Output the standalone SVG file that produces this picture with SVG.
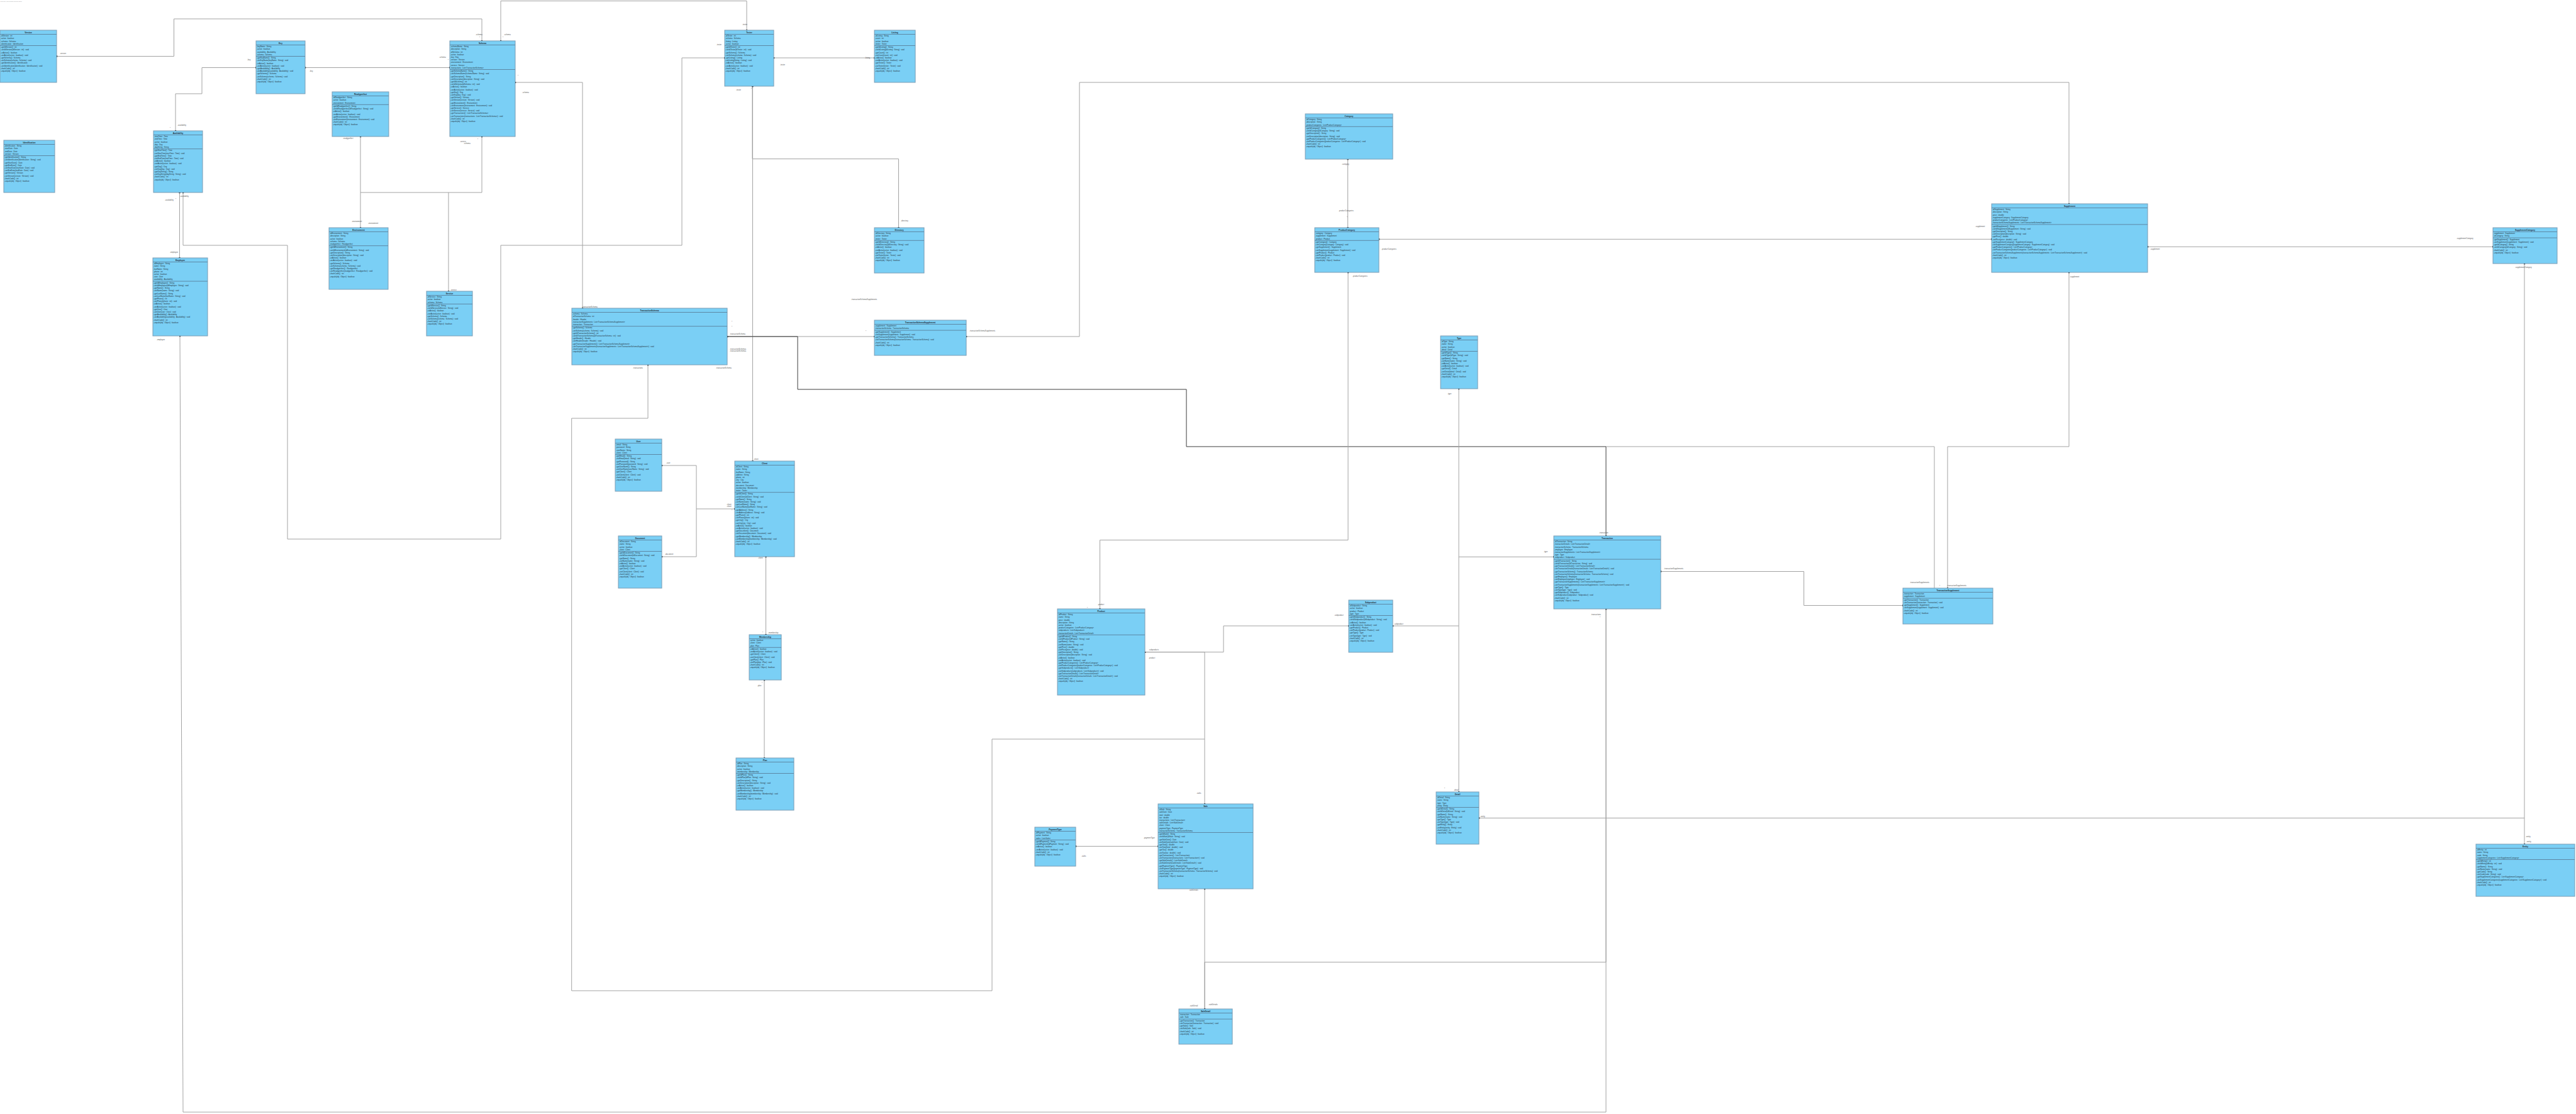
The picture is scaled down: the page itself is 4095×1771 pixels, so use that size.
<svg xmlns="http://www.w3.org/2000/svg" width="4095" height="1771" viewBox="0 0 4095 1771">
<defs>
<style>
.box{fill:#7acff5;stroke:#7a9cb4;stroke-width:1}
.sep{stroke:#5d88a5;stroke-width:1;fill:none}
.tt{font-family:"Liberation Sans",Arial,sans-serif;font-weight:bold;font-size:3.2px;fill:#1d2630;text-anchor:middle}
.m{font-family:"Liberation Sans",Arial,sans-serif;font-size:2.9px;fill:#27323c}
.cn path{fill:none;stroke:#a3a3a3;stroke-width:1;marker-start:url(#e);marker-end:url(#e)}
.cn path.dk{stroke:#3c3c3c}
.cn path.nm{marker-start:none;marker-end:none}
.cn path.ns{marker-start:none}
.cn path.ne{marker-end:none}
.lb{font-family:"Liberation Sans",Arial,sans-serif;font-size:2.8px;fill:#555}
</style>
<marker id="e" markerUnits="userSpaceOnUse" markerWidth="3" markerHeight="3" refX="1.2" refY="1.2"><rect width="2.4" height="2.4" fill="#111"/></marker>
</defs>
<rect width="4095" height="1771" fill="#fff"/>
<text x="0.5" y="3" style="font-family:'Liberation Sans',sans-serif;font-size:1.6px;fill:#9a9a9a">Powered By Visual Paradigm Community Edition</text>

<g class="cn" id="connectors">
<path d="M90 89.5H276.5V30H766V65"/>
<path d="M796 65V1.5H1187V48"/>
<path d="M485 107.5H715"/>
<path d="M407 107.5H321V149H279V208"/>
<path d="M573 217V362"/>
<path class="ne" d="M766 217V306H573"/>
<path class="ns" d="M713 306V463"/>
<path d="M819 131H926V490"/>
<path d="M285.5 306V410"/>
<path d="M291 306V390H457V857H796V390H1084V92H1152"/>
<path d="M286 534L291 1768H2553V968"/>
<path d="M1230 92H1390"/>
<path d="M1196 137V252.6H1428.5V362"/>
<path d="M1196.5 137V733"/>
<path d="M1156 535H1390"/>
<path class="dk" d="M1156 535H1268V619H1886V710H2553V852"/>
<path class="nm" d="M2553 710H3075V935"/>
<path d="M1536 535H1716V131H3289V324"/>
<path class="ne" d="M1030 580V665H908.7V1575H1577V1175H1915"/>
<path d="M1052 740H1107V809H1168"/>
<path class="ne" d="M1052 885H1107V809"/>
<path d="M1217.5 885V1009"/>
<path d="M1215 1081V1205"/>
<path d="M2142.6 253V362"/>
<path d="M2192 380.3H3166"/>
<path d="M3414 392.3H3963"/>
<path d="M2143 433V858.6H1748.5V968"/>
<path d="M3289 433V710H3096V935"/>
<path d="M4013 419V1342"/>
<path class="ne" d="M2351 1300.5H4013"/>
<path d="M2319 618V1259"/>
<path class="ns" d="M2319 995H2214"/>
<path class="ns" d="M2319 885.3H2470"/>
<path d="M2144 995H1945V1036.7H1820"/>
<path d="M1820 1036.7H1915V1278"/>
<path d="M2640 908.5H2867.6V962.5H3025"/>
<path d="M1710 1345.4H1841"/>
<path d="M1915 1413V1604"/>
<path d="M2553 968V1529.6H1915V1604"/>
</g>

<g id="labels">
<text class="lb" x="95" y="86">-version</text>
<text class="lb" x="756" y="56">-schema</text><text class="lb" x="762" y="61">*</text>
<text class="lb" x="801" y="56">-schema</text><text class="lb" x="799" y="61">*</text>
<text class="lb" x="1180" y="40">-tester</text>
<text class="lb" x="492" y="114">-key</text>
<text class="lb" x="698" y="92">-schema</text><text class="lb" x="712" y="97">*</text>
<text class="lb" x="393" y="96">-key</text>
<text class="lb" x="282" y="200">-availability</text><text class="lb" x="270" y="205">*</text>
<text class="lb" x="545" y="221">-readyperfect</text>
<text class="lb" x="559" y="353">-environment</text><text class="lb" x="585" y="356">-environment</text>
<text class="lb" x="731" y="226">-service</text><text class="lb" x="737" y="229">-schema</text><text class="lb" x="759" y="223">*</text>
<text class="lb" x="716" y="462">-service</text>
<text class="lb" x="823" y="122">*</text><text class="lb" x="830" y="148">-schema</text>
<text class="lb" x="925" y="489">-transactionSchema</text>
<text class="lb" x="262" y="319">-availability</text><text class="lb" x="286" y="313">-availability</text><text class="lb" x="279" y="318">*</text>
<text class="lb" x="270" y="402">-employee</text>
<text class="lb" x="1139" y="72">-tester</text>
<text class="lb" x="249" y="541">-employee</text>
<text class="lb" x="1240" y="104">-tester</text><text class="lb" x="1375" y="93">-listing</text>
<text class="lb" x="1170" y="144">-tester</text><text class="lb" x="1194" y="143">*</text>
<text class="lb" x="1432" y="352">-directory</text>
<text class="lb" x="1198" y="731">-client</text>
<text class="lb" x="1160" y="532">-transactionSchema</text><text class="lb" x="1163" y="513">*</text><text class="lb" x="1163" y="521">*</text>
<text class="lb" x="1160" y="556">-transactionSchemas</text><text class="lb" x="1160" y="559">-transactionSchemas</text>
<text class="lb" x="1353" y="477">-transactionSchemaSupplements</text>
<text class="lb" x="1541" y="527">-transactionSchemaSupplements</text><text class="lb" x="1376" y="528">*</text>
<text class="lb" x="1006" y="586">-transactions</text><text class="lb" x="1138" y="586">-transactionSchema</text>
<text class="lb" x="1059" y="737">-user</text><text class="lb" x="1057" y="882">-document</text>
<text class="lb" x="1155" y="803">-client</text><text class="lb" x="1155" y="806">-client</text><text class="lb" x="1163" y="813">*</text>
<text class="lb" x="1205" y="888">-client</text>
<text class="lb" x="1221" y="1007">-membership</text><text class="lb" x="1212" y="1007">*</text>
<text class="lb" x="1211" y="1087">*</text><text class="lb" x="1204" y="1091">-plan</text>
<text class="lb" x="2133" y="262">-category</text>
<text class="lb" x="2128" y="336">-productCategories</text><text class="lb" x="2141" y="347">*</text>
<text class="lb" x="2196" y="397">-productCategories</text>
<text class="lb" x="3140" y="361">-supplement</text>
<text class="lb" x="3418" y="397">-supplement</text><text class="lb" x="3905" y="380">-supplementCategory</text>
<text class="lb" x="1745" y="962">-product</text><text class="lb" x="1728" y="968">*</text>
<text class="lb" x="2150" y="440">-productCategories</text>
<text class="lb" x="3290" y="441">-supplement</text>
<text class="lb" x="3036" y="927">-transactionSupplements</text><text class="lb" x="3095" y="932">-transactionSupplements</text><text class="lb" x="3083" y="933">*</text>
<text class="lb" x="3998" y="426">-supplementCategory</text>
<text class="lb" x="4015" y="1331">-entity</text><text class="lb" x="4016" y="1339">-entity</text>
<text class="lb" x="2353" y="1299">-entity</text>
<text class="lb" x="2311" y="1257">-detail</text><text class="lb" x="2296" y="1255">*</text>
<text class="lb" x="2301" y="627">-type</text>
<text class="lb" x="2216" y="993">-subproduct</text>
<text class="lb" x="2454" y="878">-type</text>
<text class="lb" x="2529" y="978">-transactions</text><text class="lb" x="2543" y="983">*</text>
<text class="lb" x="2542" y="848">-transaction</text>
<text class="lb" x="1826" y="1034">-subproducts</text><text class="lb" x="1826" y="1047">-product</text>
<text class="lb" x="2121" y="979">-subproduct</text>
<text class="lb" x="1902" y="1262">-sales</text><text class="lb" x="1818" y="1333">-paymentType</text>
<text class="lb" x="1719" y="1362">-sales</text>
<text class="lb" x="1890" y="1416">-saleDetails</text><text class="lb" x="1891" y="1600">-saleDetail</text><text class="lb" x="1921" y="1598">-saleDetails</text>
<text class="lb" x="2645" y="905">-transactionSupplements</text>
</g>

<g id="n1"><rect class="box" x="0" y="48" width="90" height="83"/><path class="sep" d="M0 54.5h90M0 72.5h90"/><text class="tt" x="45" y="52.7">Version</text>
<text class="m" x="1.2" y="58.1"><tspan x="1.2" dy="0">-idVersion : int</tspan><tspan x="1.2" dy="4.2">-active : boolean</tspan><tspan x="1.2" dy="4.2">-schema : Schema</tspan><tspan x="1.2" dy="4.2">-identification : Identification</tspan></text>
<text class="m" x="1.2" y="76.1"><tspan x="1.2" dy="0">+getIdVersion() : int</tspan><tspan x="1.2" dy="4.2">+setIdVersion(idVersion : int) : void</tspan><tspan x="1.2" dy="4.2">+isActive() : boolean</tspan><tspan x="1.2" dy="4.2">+setActive(active : boolean) : void</tspan><tspan x="1.2" dy="4.2">+getSchema() : Schema</tspan><tspan x="1.2" dy="4.2">+setSchema(schema : Schema) : void</tspan><tspan x="1.2" dy="4.2">+getIdentification() : Identification</tspan><tspan x="1.2" dy="4.2">+setIdentification(identification : Identification) : void</tspan><tspan x="1.2" dy="4.2">+hashCode() : int</tspan><tspan x="1.2" dy="4.2">+equals(obj : Object) : boolean</tspan></text></g>

<g id="n2"><rect class="box" x="6" y="223" width="81" height="83"/><path class="sep" d="M6 229.5h81M6 247.5h81"/><text class="tt" x="46.5" y="227.7">Identification</text>
<text class="m" x="7.2" y="233.1"><tspan x="7.2" dy="0">-identification : String</tspan><tspan x="7.2" dy="4.2">-startDate : Date</tspan><tspan x="7.2" dy="4.2">-endDate : Date</tspan><tspan x="7.2" dy="4.2">-version : Version</tspan></text>
<text class="m" x="7.2" y="251.1"><tspan x="7.2" dy="0">+getIdentification() : String</tspan><tspan x="7.2" dy="4.2">+setIdentification(identification : String) : void</tspan><tspan x="7.2" dy="4.2">+getStartDate() : Date</tspan><tspan x="7.2" dy="4.2">+getEndDate() : Date</tspan><tspan x="7.2" dy="4.2">+setStartDate(startDate : Date) : void</tspan><tspan x="7.2" dy="4.2">+setEndDate(endDate : Date) : void</tspan><tspan x="7.2" dy="4.2">+getVersion() : Version</tspan><tspan x="7.2" dy="4.2">+setVersion(version : Version) : void</tspan><tspan x="7.2" dy="4.2">+hashCode() : int</tspan><tspan x="7.2" dy="4.2">+equals(obj : Object) : boolean</tspan></text></g>

<g id="n3"><rect class="box" x="244" y="208" width="78" height="98"/><path class="sep" d="M244 214.5h78M244 236.7h78"/><text class="tt" x="283" y="212.7">Availability</text>
<text class="m" x="245.2" y="218.1"><tspan x="245.2" dy="0">-startTime : Time</tspan><tspan x="245.2" dy="4.2">-endTime : Time</tspan><tspan x="245.2" dy="4.2">-active : boolean</tspan><tspan x="245.2" dy="4.2">-day : Day</tspan><tspan x="245.2" dy="4.2">-dayString : String</tspan></text>
<text class="m" x="245.2" y="240.3"><tspan x="245.2" dy="0">+getStartTime() : Time</tspan><tspan x="245.2" dy="4.2">+setStartTime(startTime : Time) : void</tspan><tspan x="245.2" dy="4.2">+getEndTime() : Time</tspan><tspan x="245.2" dy="4.2">+setEndTime(endTime : Time) : void</tspan><tspan x="245.2" dy="4.2">+isActive() : boolean</tspan><tspan x="245.2" dy="4.2">+setActive(active : boolean) : void</tspan><tspan x="245.2" dy="4.2">+getDay() : Day</tspan><tspan x="245.2" dy="4.2">+setDay(day : Day) : void</tspan><tspan x="245.2" dy="4.2">+getDayString() : String</tspan><tspan x="245.2" dy="4.2">+setDayString(dayString : String) : void</tspan><tspan x="245.2" dy="4.2">+hashCode() : int</tspan><tspan x="245.2" dy="4.2">+equals(obj : Object) : boolean</tspan></text></g>

<g id="n4"><rect class="box" x="243" y="410" width="87" height="124"/><path class="sep" d="M243 416.5h87M243 447.1h87"/><text class="tt" x="286.5" y="414.7">Employee</text>
<text class="m" x="244.2" y="420.1"><tspan x="244.2" dy="0">-idEmployee : String</tspan><tspan x="244.2" dy="4.2">-name : String</tspan><tspan x="244.2" dy="4.2">-lastName : String</tspan><tspan x="244.2" dy="4.2">-phone : int</tspan><tspan x="244.2" dy="4.2">-active : boolean</tspan><tspan x="244.2" dy="4.2">-user : User</tspan><tspan x="244.2" dy="4.2">-availability : Availability</tspan></text>
<text class="m" x="244.2" y="450.7"><tspan x="244.2" dy="0">+getIdEmployee() : String</tspan><tspan x="244.2" dy="4.2">+setIdEmployee(idEmployee : String) : void</tspan><tspan x="244.2" dy="4.2">+getName() : String</tspan><tspan x="244.2" dy="4.2">+setName(name : String) : void</tspan><tspan x="244.2" dy="4.2">+getLastName() : String</tspan><tspan x="244.2" dy="4.2">+setLastName(lastName : String) : void</tspan><tspan x="244.2" dy="4.2">+getPhone() : int</tspan><tspan x="244.2" dy="4.2">+setPhone(phone : int) : void</tspan><tspan x="244.2" dy="4.2">+isActive() : boolean</tspan><tspan x="244.2" dy="4.2">+setActive(active : boolean) : void</tspan><tspan x="244.2" dy="4.2">+getUser() : User</tspan><tspan x="244.2" dy="4.2">+setUser(user : User) : void</tspan><tspan x="244.2" dy="4.2">+getAvailability() : Availability</tspan><tspan x="244.2" dy="4.2">+setAvailability(availability : Availability) : void</tspan><tspan x="244.2" dy="4.2">+hashCode() : int</tspan><tspan x="244.2" dy="4.2">+equals(obj : Object) : boolean</tspan></text></g>

<g id="n5"><rect class="box" x="407" y="65" width="78" height="84"/><path class="sep" d="M407 71.5h78M407 89.5h78"/><text class="tt" x="446" y="69.7">Key</text>
<text class="m" x="408.2" y="75.1"><tspan x="408.2" dy="0">-keyName : String</tspan><tspan x="408.2" dy="4.2">-active : boolean</tspan><tspan x="408.2" dy="4.2">-availability : Availability</tspan><tspan x="408.2" dy="4.2">-schema : Schema</tspan></text>
<text class="m" x="408.2" y="93.1"><tspan x="408.2" dy="0">+getKeyName() : String</tspan><tspan x="408.2" dy="4.2">+setKeyName(keyName : String) : void</tspan><tspan x="408.2" dy="4.2">+isActive() : boolean</tspan><tspan x="408.2" dy="4.2">+setActive(active : boolean) : void</tspan><tspan x="408.2" dy="4.2">+getAvailability() : Availability</tspan><tspan x="408.2" dy="4.2">+setAvailability(availability : Availability) : void</tspan><tspan x="408.2" dy="4.2">+getSchema() : Schema</tspan><tspan x="408.2" dy="4.2">+setSchema(schema : Schema) : void</tspan><tspan x="408.2" dy="4.2">+hashCode() : int</tspan><tspan x="408.2" dy="4.2">+equals(obj : Object) : boolean</tspan></text></g>

<g id="n6"><rect class="box" x="528" y="146" width="90" height="71"/><path class="sep" d="M528 152.5h90M528 166.3h90"/><text class="tt" x="573" y="150.7">Readyperfect</text>
<text class="m" x="529.2" y="156.1"><tspan x="529.2" dy="0">-idReadyperfect : String</tspan><tspan x="529.2" dy="4.2">-active : boolean</tspan><tspan x="529.2" dy="4.2">-environment : Environment</tspan></text>
<text class="m" x="529.2" y="169.9"><tspan x="529.2" dy="0">+getIdReadyperfect() : String</tspan><tspan x="529.2" dy="4.2">+setIdReadyperfect(idReadyperfect : String) : void</tspan><tspan x="529.2" dy="4.2">+isActive() : boolean</tspan><tspan x="529.2" dy="4.2">+setActive(active : boolean) : void</tspan><tspan x="529.2" dy="4.2">+getEnvironment() : Environment</tspan><tspan x="529.2" dy="4.2">+setEnvironment(environment : Environment) : void</tspan><tspan x="529.2" dy="4.2">+hashCode() : int</tspan><tspan x="529.2" dy="4.2">+equals(obj : Object) : boolean</tspan></text></g>

<g id="n7"><rect class="box" x="523" y="362" width="94" height="98"/><path class="sep" d="M523 368.5h94M523 390.7h94"/><text class="tt" x="570" y="366.7">Environment</text>
<text class="m" x="524.2" y="372.1"><tspan x="524.2" dy="0">-idEnvironment : String</tspan><tspan x="524.2" dy="4.2">-description : String</tspan><tspan x="524.2" dy="4.2">-active : boolean</tspan><tspan x="524.2" dy="4.2">-schema : Schema</tspan><tspan x="524.2" dy="4.2">-readyperfect : Readyperfect</tspan></text>
<text class="m" x="524.2" y="394.3"><tspan x="524.2" dy="0">+getIdEnvironment() : String</tspan><tspan x="524.2" dy="4.2">+setIdEnvironment(idEnvironment : String) : void</tspan><tspan x="524.2" dy="4.2">+getDescription() : String</tspan><tspan x="524.2" dy="4.2">+setDescription(description : String) : void</tspan><tspan x="524.2" dy="4.2">+isActive() : boolean</tspan><tspan x="524.2" dy="4.2">+setActive(active : boolean) : void</tspan><tspan x="524.2" dy="4.2">+getSchema() : Schema</tspan><tspan x="524.2" dy="4.2">+setSchema(schema : Schema) : void</tspan><tspan x="524.2" dy="4.2">+getReadyperfect() : Readyperfect</tspan><tspan x="524.2" dy="4.2">+setReadyperfect(readyperfect : Readyperfect) : void</tspan><tspan x="524.2" dy="4.2">+hashCode() : int</tspan><tspan x="524.2" dy="4.2">+equals(obj : Object) : boolean</tspan></text></g>

<g id="n8"><rect class="box" x="678" y="463" width="73" height="71"/><path class="sep" d="M678 469.5h73M678 483.3h73"/><text class="tt" x="714.5" y="467.7">Service</text>
<text class="m" x="679.2" y="473.1"><tspan x="679.2" dy="0">-idService : String</tspan><tspan x="679.2" dy="4.2">-active : boolean</tspan><tspan x="679.2" dy="4.2">-schema : Schema</tspan></text>
<text class="m" x="679.2" y="486.9"><tspan x="679.2" dy="0">+getIdService() : String</tspan><tspan x="679.2" dy="4.2">+setIdService(idService : String) : void</tspan><tspan x="679.2" dy="4.2">+isActive() : boolean</tspan><tspan x="679.2" dy="4.2">+setActive(active : boolean) : void</tspan><tspan x="679.2" dy="4.2">+getSchema() : Schema</tspan><tspan x="679.2" dy="4.2">+setSchema(schema : Schema) : void</tspan><tspan x="679.2" dy="4.2">+hashCode() : int</tspan><tspan x="679.2" dy="4.2">+equals(obj : Object) : boolean</tspan></text></g>

<g id="n9"><rect class="box" x="715" y="65" width="104" height="152"/><path class="sep" d="M715 71.5h104M715 110.5h104"/><text class="tt" x="767" y="69.7">Schema</text>
<text class="m" x="716.2" y="75.1"><tspan x="716.2" dy="0">-schemaName : String</tspan><tspan x="716.2" dy="4.2">-description : String</tspan><tspan x="716.2" dy="4.2">-idSchema : int</tspan><tspan x="716.2" dy="4.2">-active : boolean</tspan><tspan x="716.2" dy="4.2">-key : Key</tspan><tspan x="716.2" dy="4.2">-version : Version</tspan><tspan x="716.2" dy="4.2">-environment : Environment</tspan><tspan x="716.2" dy="4.2">-service : Service</tspan><tspan x="716.2" dy="4.2">-transactions : List&lt;TransactionSchema&gt;</tspan></text>
<text class="m" x="716.2" y="114.1"><tspan x="716.2" dy="0">+getSchemaName() : String</tspan><tspan x="716.2" dy="4.2">+setSchemaName(schemaName : String) : void</tspan><tspan x="716.2" dy="4.2">+getDescription() : String</tspan><tspan x="716.2" dy="4.2">+setDescription(description : String) : void</tspan><tspan x="716.2" dy="4.2">+getIdSchema() : int</tspan><tspan x="716.2" dy="4.2">+setIdSchema(idSchema : int) : void</tspan><tspan x="716.2" dy="4.2">+isActive() : boolean</tspan><tspan x="716.2" dy="4.2">+setActive(active : boolean) : void</tspan><tspan x="716.2" dy="4.2">+getKey() : Key</tspan><tspan x="716.2" dy="4.2">+setKey(key : Key) : void</tspan><tspan x="716.2" dy="4.2">+getVersion() : Version</tspan><tspan x="716.2" dy="4.2">+setVersion(version : Version) : void</tspan><tspan x="716.2" dy="4.2">+getEnvironment() : Environment</tspan><tspan x="716.2" dy="4.2">+setEnvironment(environment : Environment) : void</tspan><tspan x="716.2" dy="4.2">+getService() : Service</tspan><tspan x="716.2" dy="4.2">+setService(service : Service) : void</tspan><tspan x="716.2" dy="4.2">+getTransactions() : List&lt;TransactionSchema&gt;</tspan><tspan x="716.2" dy="4.2">+setTransactions(transactions : List&lt;TransactionSchema&gt;) : void</tspan><tspan x="716.2" dy="4.2">+hashCode() : int</tspan><tspan x="716.2" dy="4.2">+equals(obj : Object) : boolean</tspan></text></g>

<g id="n10"><rect class="box" x="1152" y="48" width="78" height="89"/><path class="sep" d="M1152 54.5h78M1152 72.5h78"/><text class="tt" x="1191" y="52.7">Tester</text>
<text class="m" x="1153.2" y="58.1"><tspan x="1153.2" dy="0">-idTester : int</tspan><tspan x="1153.2" dy="4.2">-schema : Schema</tspan><tspan x="1153.2" dy="4.2">-listing : Listing</tspan><tspan x="1153.2" dy="4.2">-active : boolean</tspan></text>
<text class="m" x="1153.2" y="76.1"><tspan x="1153.2" dy="0">+getIdTester() : int</tspan><tspan x="1153.2" dy="4.2">+setIdTester(idTester : int) : void</tspan><tspan x="1153.2" dy="4.2">+getSchema() : Schema</tspan><tspan x="1153.2" dy="4.2">+setSchema(schema : Schema) : void</tspan><tspan x="1153.2" dy="4.2">+getListing() : Listing</tspan><tspan x="1153.2" dy="4.2">+setListing(listing : Listing) : void</tspan><tspan x="1153.2" dy="4.2">+isActive() : boolean</tspan><tspan x="1153.2" dy="4.2">+setActive(active : boolean) : void</tspan><tspan x="1153.2" dy="4.2">+hashCode() : int</tspan><tspan x="1153.2" dy="4.2">+equals(obj : Object) : boolean</tspan></text></g>

<g id="n11"><rect class="box" x="1390" y="48" width="65" height="83"/><path class="sep" d="M1390 54.5h65M1390 72.5h65"/><text class="tt" x="1422.5" y="52.7">Listing</text>
<text class="m" x="1391.2" y="58.1"><tspan x="1391.2" dy="0">-idListing : String</tspan><tspan x="1391.2" dy="4.2">-count : int</tspan><tspan x="1391.2" dy="4.2">-active : boolean</tspan><tspan x="1391.2" dy="4.2">-tester : Tester</tspan></text>
<text class="m" x="1391.2" y="76.1"><tspan x="1391.2" dy="0">+getIdListing() : String</tspan><tspan x="1391.2" dy="4.2">+setIdListing(idListing : String) : void</tspan><tspan x="1391.2" dy="4.2">+getCount() : int</tspan><tspan x="1391.2" dy="4.2">+setCount(count : int) : void</tspan><tspan x="1391.2" dy="4.2">+isActive() : boolean</tspan><tspan x="1391.2" dy="4.2">+setActive(active : boolean) : void</tspan><tspan x="1391.2" dy="4.2">+getTester() : Tester</tspan><tspan x="1391.2" dy="4.2">+setTester(tester : Tester) : void</tspan><tspan x="1391.2" dy="4.2">+hashCode() : int</tspan><tspan x="1391.2" dy="4.2">+equals(obj : Object) : boolean</tspan></text></g>

<g id="n12"><rect class="box" x="1390" y="362" width="79" height="72"/><path class="sep" d="M1390 368.5h79M1390 382.3h79"/><text class="tt" x="1429.5" y="366.7">Directory</text>
<text class="m" x="1391.2" y="372.1"><tspan x="1391.2" dy="0">-idDirectory : String</tspan><tspan x="1391.2" dy="4.2">-active : boolean</tspan><tspan x="1391.2" dy="4.2">-tester : Tester</tspan></text>
<text class="m" x="1391.2" y="385.9"><tspan x="1391.2" dy="0">+getIdDirectory() : String</tspan><tspan x="1391.2" dy="4.2">+setIdDirectory(idDirectory : String) : void</tspan><tspan x="1391.2" dy="4.2">+isActive() : boolean</tspan><tspan x="1391.2" dy="4.2">+setActive(active : boolean) : void</tspan><tspan x="1391.2" dy="4.2">+getTester() : Tester</tspan><tspan x="1391.2" dy="4.2">+setTester(tester : Tester) : void</tspan><tspan x="1391.2" dy="4.2">+hashCode() : int</tspan><tspan x="1391.2" dy="4.2">+equals(obj : Object) : boolean</tspan></text></g>

<g id="n13"><rect class="box" x="909" y="490" width="247" height="90"/><path class="sep" d="M909 496.5h247M909 518.7h247"/><text class="tt" x="1032.5" y="494.7">TransactionSchema</text>
<text class="m" x="910.2" y="500.1"><tspan x="910.2" dy="0">-schema : Schema</tspan><tspan x="910.2" dy="4.2">-idTransactionSchema : int</tspan><tspan x="910.2" dy="4.2">-header : Header</tspan><tspan x="910.2" dy="4.2">-transactionSupplements : List&lt;TransactionSchemaSupplement&gt;</tspan><tspan x="910.2" dy="4.2">-transaction : Transaction</tspan></text>
<text class="m" x="910.2" y="522.3"><tspan x="910.2" dy="0">+getSchema() : Schema</tspan><tspan x="910.2" dy="4.2">+setSchema(schema : Schema) : void</tspan><tspan x="910.2" dy="4.2">+getIdTransactionSchema() : int</tspan><tspan x="910.2" dy="4.2">+setIdTransactionSchema(idTransactionSchema : int) : void</tspan><tspan x="910.2" dy="4.2">+getHeader() : Header</tspan><tspan x="910.2" dy="4.2">+setHeader(header : Header) : void</tspan><tspan x="910.2" dy="4.2">+getTransactionSupplements() : List&lt;TransactionSchemaSupplement&gt;</tspan><tspan x="910.2" dy="4.2">+setTransactionSupplements(transactionSupplements : List&lt;TransactionSchemaSupplement&gt;) : void</tspan><tspan x="910.2" dy="4.2">+hashCode() : int</tspan><tspan x="910.2" dy="4.2">+equals(obj : Object) : boolean</tspan></text></g>

<g id="n14"><rect class="box" x="1390" y="509" width="146" height="56"/><path class="sep" d="M1390 515.5h146M1390 525.1h146"/><text class="tt" x="1463" y="513.7">TransactionSchemaSupplement</text>
<text class="m" x="1391.2" y="519.1"><tspan x="1391.2" dy="0">-supplement : Supplement</tspan><tspan x="1391.2" dy="4.2">-transactionSchema : TransactionSchema</tspan></text>
<text class="m" x="1391.2" y="528.7"><tspan x="1391.2" dy="0">+getSupplement() : Supplement</tspan><tspan x="1391.2" dy="4.2">+setSupplement(supplement : Supplement) : void</tspan><tspan x="1391.2" dy="4.2">+getTransactionSchema() : TransactionSchema</tspan><tspan x="1391.2" dy="4.2">+setTransactionSchema(transactionSchema : TransactionSchema) : void</tspan><tspan x="1391.2" dy="4.2">+hashCode() : int</tspan><tspan x="1391.2" dy="4.2">+equals(obj : Object) : boolean</tspan></text></g>

<g id="n15"><rect class="box" x="978" y="698" width="74" height="83"/><path class="sep" d="M978 704.5h74M978 722.5h74"/><text class="tt" x="1015" y="702.7">User</text>
<text class="m" x="979.2" y="708.1"><tspan x="979.2" dy="0">-email : String</tspan><tspan x="979.2" dy="4.2">-password : String</tspan><tspan x="979.2" dy="4.2">-userName : String</tspan><tspan x="979.2" dy="4.2">-client : Client</tspan></text>
<text class="m" x="979.2" y="726.1"><tspan x="979.2" dy="0">+getEmail() : String</tspan><tspan x="979.2" dy="4.2">+setEmail(email : String) : void</tspan><tspan x="979.2" dy="4.2">+getPassword() : String</tspan><tspan x="979.2" dy="4.2">+setPassword(password : String) : void</tspan><tspan x="979.2" dy="4.2">+getUserName() : String</tspan><tspan x="979.2" dy="4.2">+setUserName(userName : String) : void</tspan><tspan x="979.2" dy="4.2">+getClient() : Client</tspan><tspan x="979.2" dy="4.2">+setClient(client : Client) : void</tspan><tspan x="979.2" dy="4.2">+hashCode() : int</tspan><tspan x="979.2" dy="4.2">+equals(obj : Object) : boolean</tspan></text></g>

<g id="n16"><rect class="box" x="1168" y="733" width="95" height="152"/><path class="sep" d="M1168 739.5h95M1168 782.7h95"/><text class="tt" x="1215.5" y="737.7">Client</text>
<text class="m" x="1169.2" y="743.1"><tspan x="1169.2" dy="0">-idClient : String</tspan><tspan x="1169.2" dy="4.2">-name : String</tspan><tspan x="1169.2" dy="4.2">-lastName : String</tspan><tspan x="1169.2" dy="4.2">-address : String</tspan><tspan x="1169.2" dy="4.2">-phone : int</tspan><tspan x="1169.2" dy="4.2">-city : City</tspan><tspan x="1169.2" dy="4.2">-active : boolean</tspan><tspan x="1169.2" dy="4.2">-document : Document</tspan><tspan x="1169.2" dy="4.2">-membership : Membership</tspan><tspan x="1169.2" dy="4.2">-tester : Tester</tspan></text>
<text class="m" x="1169.2" y="786.3"><tspan x="1169.2" dy="0">+getIdClient() : String</tspan><tspan x="1169.2" dy="4.2">+setIdClient(idClient : String) : void</tspan><tspan x="1169.2" dy="4.2">+getName() : String</tspan><tspan x="1169.2" dy="4.2">+setName(name : String) : void</tspan><tspan x="1169.2" dy="4.2">+getLastName() : String</tspan><tspan x="1169.2" dy="4.2">+setLastName(lastName : String) : void</tspan><tspan x="1169.2" dy="4.2">+getAddress() : String</tspan><tspan x="1169.2" dy="4.2">+setAddress(address : String) : void</tspan><tspan x="1169.2" dy="4.2">+getPhone() : int</tspan><tspan x="1169.2" dy="4.2">+setPhone(phone : int) : void</tspan><tspan x="1169.2" dy="4.2">+getCity() : City</tspan><tspan x="1169.2" dy="4.2">+setCity(city : City) : void</tspan><tspan x="1169.2" dy="4.2">+isActive() : boolean</tspan><tspan x="1169.2" dy="4.2">+setActive(active : boolean) : void</tspan><tspan x="1169.2" dy="4.2">+getDocument() : Document</tspan><tspan x="1169.2" dy="4.2">+setDocument(document : Document) : void</tspan><tspan x="1169.2" dy="4.2">+getMembership() : Membership</tspan><tspan x="1169.2" dy="4.2">+setMembership(membership : Membership) : void</tspan><tspan x="1169.2" dy="4.2">+hashCode() : int</tspan><tspan x="1169.2" dy="4.2">+equals(obj : Object) : boolean</tspan></text></g>

<g id="n17"><rect class="box" x="983" y="852" width="69" height="83"/><path class="sep" d="M983 858.5h69M983 876.5h69"/><text class="tt" x="1017.5" y="856.7">Document</text>
<text class="m" x="984.2" y="862.1"><tspan x="984.2" dy="0">-idDocument : String</tspan><tspan x="984.2" dy="4.2">-name : String</tspan><tspan x="984.2" dy="4.2">-active : boolean</tspan><tspan x="984.2" dy="4.2">-client : Client</tspan></text>
<text class="m" x="984.2" y="880.1"><tspan x="984.2" dy="0">+getIdDocument() : String</tspan><tspan x="984.2" dy="4.2">+setIdDocument(idDocument : String) : void</tspan><tspan x="984.2" dy="4.2">+getName() : String</tspan><tspan x="984.2" dy="4.2">+setName(name : String) : void</tspan><tspan x="984.2" dy="4.2">+isActive() : boolean</tspan><tspan x="984.2" dy="4.2">+setActive(active : boolean) : void</tspan><tspan x="984.2" dy="4.2">+getClient() : Client</tspan><tspan x="984.2" dy="4.2">+setClient(client : Client) : void</tspan><tspan x="984.2" dy="4.2">+hashCode() : int</tspan><tspan x="984.2" dy="4.2">+equals(obj : Object) : boolean</tspan></text></g>

<g id="n18"><rect class="box" x="1191" y="1009" width="51" height="72"/><path class="sep" d="M1191 1015.5h51M1191 1029.3h51"/><text class="tt" x="1216.5" y="1013.7">Membership</text>
<text class="m" x="1192.2" y="1019.1"><tspan x="1192.2" dy="0">-active : boolean</tspan><tspan x="1192.2" dy="4.2">-client : Client</tspan><tspan x="1192.2" dy="4.2">-plan : Plan</tspan></text>
<text class="m" x="1192.2" y="1032.9"><tspan x="1192.2" dy="0">+isActive() : boolean</tspan><tspan x="1192.2" dy="4.2">+setActive(active : boolean) : void</tspan><tspan x="1192.2" dy="4.2">+getClient() : Client</tspan><tspan x="1192.2" dy="4.2">+setClient(client : Client) : void</tspan><tspan x="1192.2" dy="4.2">+getPlan() : Plan</tspan><tspan x="1192.2" dy="4.2">+setPlan(plan : Plan) : void</tspan><tspan x="1192.2" dy="4.2">+hashCode() : int</tspan><tspan x="1192.2" dy="4.2">+equals(obj : Object) : boolean</tspan></text></g>

<g id="n19"><rect class="box" x="1170" y="1205" width="92" height="83"/><path class="sep" d="M1170 1211.5h92M1170 1229.5h92"/><text class="tt" x="1216" y="1209.7">Plan</text>
<text class="m" x="1171.2" y="1215.1"><tspan x="1171.2" dy="0">-idPlan : String</tspan><tspan x="1171.2" dy="4.2">-description : String</tspan><tspan x="1171.2" dy="4.2">-active : boolean</tspan><tspan x="1171.2" dy="4.2">-membership : Membership</tspan></text>
<text class="m" x="1171.2" y="1233.1"><tspan x="1171.2" dy="0">+getIdPlan() : String</tspan><tspan x="1171.2" dy="4.2">+setIdPlan(idPlan : String) : void</tspan><tspan x="1171.2" dy="4.2">+getDescription() : String</tspan><tspan x="1171.2" dy="4.2">+setDescription(description : String) : void</tspan><tspan x="1171.2" dy="4.2">+isActive() : boolean</tspan><tspan x="1171.2" dy="4.2">+setActive(active : boolean) : void</tspan><tspan x="1171.2" dy="4.2">+getMembership() : Membership</tspan><tspan x="1171.2" dy="4.2">+setMembership(membership : Membership) : void</tspan><tspan x="1171.2" dy="4.2">+hashCode() : int</tspan><tspan x="1171.2" dy="4.2">+equals(obj : Object) : boolean</tspan></text></g>

<g id="n20"><rect class="box" x="2075" y="181" width="139" height="72"/><path class="sep" d="M2075 187.5h139M2075 201.3h139"/><text class="tt" x="2144.5" y="185.7">Category</text>
<text class="m" x="2076.2" y="191.1"><tspan x="2076.2" dy="0">-idCategory : String</tspan><tspan x="2076.2" dy="4.2">-description : String</tspan><tspan x="2076.2" dy="4.2">-productCategories : List&lt;ProductCategory&gt;</tspan></text>
<text class="m" x="2076.2" y="204.9"><tspan x="2076.2" dy="0">+getIdCategory() : String</tspan><tspan x="2076.2" dy="4.2">+setIdCategory(idCategory : String) : void</tspan><tspan x="2076.2" dy="4.2">+getDescription() : String</tspan><tspan x="2076.2" dy="4.2">+setDescription(description : String) : void</tspan><tspan x="2076.2" dy="4.2">+getProductCategories() : List&lt;ProductCategory&gt;</tspan><tspan x="2076.2" dy="4.2">+setProductCategories(productCategories : List&lt;ProductCategory&gt;) : void</tspan><tspan x="2076.2" dy="4.2">+hashCode() : int</tspan><tspan x="2076.2" dy="4.2">+equals(obj : Object) : boolean</tspan></text></g>

<g id="n21"><rect class="box" x="2090" y="362" width="102" height="71"/><path class="sep" d="M2090 368.5h102M2090 382.3h102"/><text class="tt" x="2141" y="366.7">ProductCategory</text>
<text class="m" x="2091.2" y="372.1"><tspan x="2091.2" dy="0">-category : Category</tspan><tspan x="2091.2" dy="4.2">-supplement : Supplement</tspan><tspan x="2091.2" dy="4.2">-product : Product</tspan></text>
<text class="m" x="2091.2" y="385.9"><tspan x="2091.2" dy="0">+getCategory() : Category</tspan><tspan x="2091.2" dy="4.2">+setCategory(category : Category) : void</tspan><tspan x="2091.2" dy="4.2">+getSupplement() : Supplement</tspan><tspan x="2091.2" dy="4.2">+setSupplement(supplement : Supplement) : void</tspan><tspan x="2091.2" dy="4.2">+getProduct() : Product</tspan><tspan x="2091.2" dy="4.2">+setProduct(product : Product) : void</tspan><tspan x="2091.2" dy="4.2">+hashCode() : int</tspan><tspan x="2091.2" dy="4.2">+equals(obj : Object) : boolean</tspan></text></g>

<g id="n22"><rect class="box" x="3166" y="324" width="248" height="109"/><path class="sep" d="M3166 330.5h248M3166 356.9h248"/><text class="tt" x="3290" y="328.7">Supplement</text>
<text class="m" x="3167.2" y="334.1"><tspan x="3167.2" dy="0">-idSupplement : String</tspan><tspan x="3167.2" dy="4.2">-description : String</tspan><tspan x="3167.2" dy="4.2">-price : double</tspan><tspan x="3167.2" dy="4.2">-supplementCategory : SupplementCategory</tspan><tspan x="3167.2" dy="4.2">-productCategories : List&lt;ProductCategory&gt;</tspan><tspan x="3167.2" dy="4.2">-transactionSchemaSupplements : List&lt;TransactionSchemaSupplement&gt;</tspan></text>
<text class="m" x="3167.2" y="360.5"><tspan x="3167.2" dy="0">+getIdSupplement() : String</tspan><tspan x="3167.2" dy="4.2">+setIdSupplement(idSupplement : String) : void</tspan><tspan x="3167.2" dy="4.2">+getDescription() : String</tspan><tspan x="3167.2" dy="4.2">+setDescription(description : String) : void</tspan><tspan x="3167.2" dy="4.2">+getPrice() : double</tspan><tspan x="3167.2" dy="4.2">+setPrice(price : double) : void</tspan><tspan x="3167.2" dy="4.2">+getSupplementCategory() : SupplementCategory</tspan><tspan x="3167.2" dy="4.2">+setSupplementCategory(supplementCategory : SupplementCategory) : void</tspan><tspan x="3167.2" dy="4.2">+getProductCategories() : List&lt;ProductCategory&gt;</tspan><tspan x="3167.2" dy="4.2">+setProductCategories(productCategories : List&lt;ProductCategory&gt;) : void</tspan><tspan x="3167.2" dy="4.2">+setTransactionSchemaSupplements(transactionSchemaSupplements : List&lt;TransactionSchemaSupplement&gt;) : void</tspan><tspan x="3167.2" dy="4.2">+hashCode() : int</tspan><tspan x="3167.2" dy="4.2">+equals(obj : Object) : boolean</tspan></text></g>

<g id="n23"><rect class="box" x="3963" y="362" width="102" height="57"/><path class="sep" d="M3963 368.5h102M3963 378.1h102"/><text class="tt" x="4014" y="366.7">SupplementCategory</text>
<text class="m" x="3964.2" y="372.1"><tspan x="3964.2" dy="0">-supplement : Supplement</tspan><tspan x="3964.2" dy="4.2">-idCategory : String</tspan></text>
<text class="m" x="3964.2" y="381.7"><tspan x="3964.2" dy="0">+getSupplement() : Supplement</tspan><tspan x="3964.2" dy="4.2">+setSupplement(supplement : Supplement) : void</tspan><tspan x="3964.2" dy="4.2">+getIdCategory() : String</tspan><tspan x="3964.2" dy="4.2">+setIdCategory(idCategory : String) : void</tspan><tspan x="3964.2" dy="4.2">+hashCode() : int</tspan><tspan x="3964.2" dy="4.2">+equals(obj : Object) : boolean</tspan></text></g>

<g id="n24"><rect class="box" x="2290" y="534" width="59" height="84"/><path class="sep" d="M2290 540.5h59M2290 558.5h59"/><text class="tt" x="2319.5" y="538.7">Type</text>
<text class="m" x="2291.2" y="544.1"><tspan x="2291.2" dy="0">-idType : String</tspan><tspan x="2291.2" dy="4.2">-name : String</tspan><tspan x="2291.2" dy="4.2">-active : boolean</tspan><tspan x="2291.2" dy="4.2">-detail : Detail</tspan></text>
<text class="m" x="2291.2" y="562.1"><tspan x="2291.2" dy="0">+getIdType() : String</tspan><tspan x="2291.2" dy="4.2">+setIdType(idType : String) : void</tspan><tspan x="2291.2" dy="4.2">+getName() : String</tspan><tspan x="2291.2" dy="4.2">+setName(name : String) : void</tspan><tspan x="2291.2" dy="4.2">+isActive() : boolean</tspan><tspan x="2291.2" dy="4.2">+setActive(active : boolean) : void</tspan><tspan x="2291.2" dy="4.2">+getDetail() : Detail</tspan><tspan x="2291.2" dy="4.2">+setDetail(detail : Detail) : void</tspan><tspan x="2291.2" dy="4.2">+hashCode() : int</tspan><tspan x="2291.2" dy="4.2">+equals(obj : Object) : boolean</tspan></text></g>

<g id="n25"><rect class="box" x="2470" y="852" width="170" height="116"/><path class="sep" d="M2470 858.5h170M2470 889.1h170"/><text class="tt" x="2555" y="856.7">Transaction</text>
<text class="m" x="2471.2" y="862.1"><tspan x="2471.2" dy="0">-idTransaction : String</tspan><tspan x="2471.2" dy="4.2">-transactionDetails : List&lt;TransactionDetail&gt;</tspan><tspan x="2471.2" dy="4.2">-transactionSchema : TransactionSchema</tspan><tspan x="2471.2" dy="4.2">-employee : Employee</tspan><tspan x="2471.2" dy="4.2">-transactionSupplements : List&lt;TransactionSupplement&gt;</tspan><tspan x="2471.2" dy="4.2">-type : Type</tspan><tspan x="2471.2" dy="4.2">-subproduct : Subproduct</tspan></text>
<text class="m" x="2471.2" y="892.7"><tspan x="2471.2" dy="0">+getIdTransaction() : String</tspan><tspan x="2471.2" dy="4.2">+setIdTransaction(idTransaction : String) : void</tspan><tspan x="2471.2" dy="4.2">+getTransactionDetails() : List&lt;TransactionDetail&gt;</tspan><tspan x="2471.2" dy="4.2">+setTransactionDetails(transactionDetails : List&lt;TransactionDetail&gt;) : void</tspan><tspan x="2471.2" dy="4.2">+getTransactionSchema() : TransactionSchema</tspan><tspan x="2471.2" dy="4.2">+setTransactionSchema(transactionSchema : TransactionSchema) : void</tspan><tspan x="2471.2" dy="4.2">+getEmployee() : Employee</tspan><tspan x="2471.2" dy="4.2">+setEmployee(employee : Employee) : void</tspan><tspan x="2471.2" dy="4.2">+getTransactionSupplements() : List&lt;TransactionSupplement&gt;</tspan><tspan x="2471.2" dy="4.2">+setTransactionSupplements(transactionSupplements : List&lt;TransactionSupplement&gt;) : void</tspan><tspan x="2471.2" dy="4.2">+getType() : Type</tspan><tspan x="2471.2" dy="4.2">+setType(type : Type) : void</tspan><tspan x="2471.2" dy="4.2">+getSubproduct() : Subproduct</tspan><tspan x="2471.2" dy="4.2">+setSubproduct(subproduct : Subproduct) : void</tspan><tspan x="2471.2" dy="4.2">+hashCode() : int</tspan><tspan x="2471.2" dy="4.2">+equals(obj : Object) : boolean</tspan></text></g>

<g id="n26"><rect class="box" x="3025" y="935" width="143" height="57"/><path class="sep" d="M3025 941.5h143M3025 951.1h143"/><text class="tt" x="3096.5" y="939.7">TransactionSupplement</text>
<text class="m" x="3026.2" y="945.1"><tspan x="3026.2" dy="0">-transaction : Transaction</tspan><tspan x="3026.2" dy="4.2">-supplement : Supplement</tspan></text>
<text class="m" x="3026.2" y="954.7"><tspan x="3026.2" dy="0">+getTransaction() : Transaction</tspan><tspan x="3026.2" dy="4.2">+setTransaction(transaction : Transaction) : void</tspan><tspan x="3026.2" dy="4.2">+getSupplement() : Supplement</tspan><tspan x="3026.2" dy="4.2">+setSupplement(supplement : Supplement) : void</tspan><tspan x="3026.2" dy="4.2">+hashCode() : int</tspan><tspan x="3026.2" dy="4.2">+equals(obj : Object) : boolean</tspan></text></g>

<g id="n27"><rect class="box" x="1681" y="968" width="139" height="137"/><path class="sep" d="M1681 974.5h139M1681 1009.3h139"/><text class="tt" x="1750.5" y="972.7">Product</text>
<text class="m" x="1682.2" y="978.1"><tspan x="1682.2" dy="0">-idProduct : String</tspan><tspan x="1682.2" dy="4.2">-name : String</tspan><tspan x="1682.2" dy="4.2">-price : double</tspan><tspan x="1682.2" dy="4.2">-description : String</tspan><tspan x="1682.2" dy="4.2">-active : boolean</tspan><tspan x="1682.2" dy="4.2">-productCategories : List&lt;ProductCategory&gt;</tspan><tspan x="1682.2" dy="4.2">-subproducts : List&lt;Subproduct&gt;</tspan><tspan x="1682.2" dy="4.2">-transactionDetails : List&lt;TransactionDetail&gt;</tspan></text>
<text class="m" x="1682.2" y="1012.9"><tspan x="1682.2" dy="0">+getIdProduct() : String</tspan><tspan x="1682.2" dy="4.2">+setIdProduct(idProduct : String) : void</tspan><tspan x="1682.2" dy="4.2">+getName() : String</tspan><tspan x="1682.2" dy="4.2">+setName(name : String) : void</tspan><tspan x="1682.2" dy="4.2">+getPrice() : double</tspan><tspan x="1682.2" dy="4.2">+setPrice(price : double) : void</tspan><tspan x="1682.2" dy="4.2">+getDescription() : String</tspan><tspan x="1682.2" dy="4.2">+setDescription(description : String) : void</tspan><tspan x="1682.2" dy="4.2">+isActive() : boolean</tspan><tspan x="1682.2" dy="4.2">+setActive(active : boolean) : void</tspan><tspan x="1682.2" dy="4.2">+getProductCategories() : List&lt;ProductCategory&gt;</tspan><tspan x="1682.2" dy="4.2">+setProductCategories(productCategories : List&lt;ProductCategory&gt;) : void</tspan><tspan x="1682.2" dy="4.2">+getSubproducts() : List&lt;Subproduct&gt;</tspan><tspan x="1682.2" dy="4.2">+setSubproducts(subproducts : List&lt;Subproduct&gt;) : void</tspan><tspan x="1682.2" dy="4.2">+getTransactionDetails() : List&lt;TransactionDetail&gt;</tspan><tspan x="1682.2" dy="4.2">+setTransactionDetails(transactionDetails : List&lt;TransactionDetail&gt;) : void</tspan><tspan x="1682.2" dy="4.2">+hashCode() : int</tspan><tspan x="1682.2" dy="4.2">+equals(obj : Object) : boolean</tspan></text></g>

<g id="n28"><rect class="box" x="2144" y="954" width="70" height="83"/><path class="sep" d="M2144 960.5h70M2144 978.5h70"/><text class="tt" x="2179" y="958.7">Subproduct</text>
<text class="m" x="2145.2" y="964.1"><tspan x="2145.2" dy="0">-idSubproduct : String</tspan><tspan x="2145.2" dy="4.2">-active : boolean</tspan><tspan x="2145.2" dy="4.2">-product : Product</tspan><tspan x="2145.2" dy="4.2">-type : Type</tspan></text>
<text class="m" x="2145.2" y="982.1"><tspan x="2145.2" dy="0">+getIdSubproduct() : String</tspan><tspan x="2145.2" dy="4.2">+setIdSubproduct(idSubproduct : String) : void</tspan><tspan x="2145.2" dy="4.2">+isActive() : boolean</tspan><tspan x="2145.2" dy="4.2">+setActive(active : boolean) : void</tspan><tspan x="2145.2" dy="4.2">+getProduct() : Product</tspan><tspan x="2145.2" dy="4.2">+setProduct(product : Product) : void</tspan><tspan x="2145.2" dy="4.2">+getType() : Type</tspan><tspan x="2145.2" dy="4.2">+setType(type : Type) : void</tspan><tspan x="2145.2" dy="4.2">+hashCode() : int</tspan><tspan x="2145.2" dy="4.2">+equals(obj : Object) : boolean</tspan></text></g>

<g id="n29"><rect class="box" x="2283" y="1259" width="68" height="83"/><path class="sep" d="M2283 1265.5h68M2283 1283.5h68"/><text class="tt" x="2317" y="1263.7">Detail</text>
<text class="m" x="2284.2" y="1269.1"><tspan x="2284.2" dy="0">-idDetail : String</tspan><tspan x="2284.2" dy="4.2">-name : String</tspan><tspan x="2284.2" dy="4.2">-type : Type</tspan><tspan x="2284.2" dy="4.2">-entity : Entity</tspan></text>
<text class="m" x="2284.2" y="1287.1"><tspan x="2284.2" dy="0">+getIdDetail() : String</tspan><tspan x="2284.2" dy="4.2">+setIdDetail(idDetail : String) : void</tspan><tspan x="2284.2" dy="4.2">+getName() : String</tspan><tspan x="2284.2" dy="4.2">+setName(name : String) : void</tspan><tspan x="2284.2" dy="4.2">+getType() : Type</tspan><tspan x="2284.2" dy="4.2">+setType(type : Type) : void</tspan><tspan x="2284.2" dy="4.2">+getEntity() : Entity</tspan><tspan x="2284.2" dy="4.2">+setEntity(entity : Entity) : void</tspan><tspan x="2284.2" dy="4.2">+hashCode() : int</tspan><tspan x="2284.2" dy="4.2">+equals(obj : Object) : boolean</tspan></text></g>

<g id="n30"><rect class="box" x="1645" y="1315" width="65" height="62"/><path class="sep" d="M1645 1321.5h65M1645 1335.3h65"/><text class="tt" x="1677.5" y="1319.7">PaymentType</text>
<text class="m" x="1646.2" y="1325.1"><tspan x="1646.2" dy="0">-idPayment : String</tspan><tspan x="1646.2" dy="4.2">-active : boolean</tspan><tspan x="1646.2" dy="4.2">-sales : List&lt;Sale&gt;</tspan></text>
<text class="m" x="1646.2" y="1338.9"><tspan x="1646.2" dy="0">+getIdPayment() : String</tspan><tspan x="1646.2" dy="4.2">+setIdPayment(idPayment : String) : void</tspan><tspan x="1646.2" dy="4.2">+isActive() : boolean</tspan><tspan x="1646.2" dy="4.2">+setActive(active : boolean) : void</tspan><tspan x="1646.2" dy="4.2">+hashCode() : int</tspan><tspan x="1646.2" dy="4.2">+equals(obj : Object) : boolean</tspan></text></g>

<g id="n31"><rect class="box" x="1841" y="1278" width="151" height="135"/><path class="sep" d="M1841 1284.5h151M1841 1323.5h151"/><text class="tt" x="1916.5" y="1282.7">Sale</text>
<text class="m" x="1842.2" y="1288.1"><tspan x="1842.2" dy="0">-idSale : String</tspan><tspan x="1842.2" dy="4.2">-saleDate : Date</tspan><tspan x="1842.2" dy="4.2">-total : double</tspan><tspan x="1842.2" dy="4.2">-tax : double</tspan><tspan x="1842.2" dy="4.2">-transactions : List&lt;Transaction&gt;</tspan><tspan x="1842.2" dy="4.2">-saleDetails : List&lt;SaleDetail&gt;</tspan><tspan x="1842.2" dy="4.2">-client : Client</tspan><tspan x="1842.2" dy="4.2">-paymentType : PaymentType</tspan><tspan x="1842.2" dy="4.2">-transactionSchema : TransactionSchema</tspan></text>
<text class="m" x="1842.2" y="1327.1"><tspan x="1842.2" dy="0">+getIdSale() : String</tspan><tspan x="1842.2" dy="4.2">+setIdSale(idSale : String) : void</tspan><tspan x="1842.2" dy="4.2">+getSaleDate() : Date</tspan><tspan x="1842.2" dy="4.2">+setSaleDate(saleDate : Date) : void</tspan><tspan x="1842.2" dy="4.2">+getTotal() : double</tspan><tspan x="1842.2" dy="4.2">+setTotal(total : double) : void</tspan><tspan x="1842.2" dy="4.2">+getTax() : double</tspan><tspan x="1842.2" dy="4.2">+setTax(tax : double) : void</tspan><tspan x="1842.2" dy="4.2">+getTransactions() : List&lt;Transaction&gt;</tspan><tspan x="1842.2" dy="4.2">+setTransactions(transactions : List&lt;Transaction&gt;) : void</tspan><tspan x="1842.2" dy="4.2">+getSaleDetails() : List&lt;SaleDetail&gt;</tspan><tspan x="1842.2" dy="4.2">+setSaleDetails(saleDetails : List&lt;SaleDetail&gt;) : void</tspan><tspan x="1842.2" dy="4.2">+getPaymentType() : PaymentType</tspan><tspan x="1842.2" dy="4.2">+setPaymentType(paymentType : PaymentType) : void</tspan><tspan x="1842.2" dy="4.2">+setTransactionSchema(transactionSchema : TransactionSchema) : void</tspan><tspan x="1842.2" dy="4.2">+hashCode() : int</tspan><tspan x="1842.2" dy="4.2">+equals(obj : Object) : boolean</tspan></text></g>

<g id="n32"><rect class="box" x="1874" y="1604" width="85" height="56"/><path class="sep" d="M1874 1610.5h85M1874 1620.1h85"/><text class="tt" x="1916.5" y="1608.7">SaleDetail</text>
<text class="m" x="1875.2" y="1614.1"><tspan x="1875.2" dy="0">-transaction : Transaction</tspan><tspan x="1875.2" dy="4.2">-sale : Sale</tspan></text>
<text class="m" x="1875.2" y="1623.7"><tspan x="1875.2" dy="0">+getTransaction() : Transaction</tspan><tspan x="1875.2" dy="4.2">+setTransaction(transaction : Transaction) : void</tspan><tspan x="1875.2" dy="4.2">+getSale() : Sale</tspan><tspan x="1875.2" dy="4.2">+setSale(sale : Sale) : void</tspan><tspan x="1875.2" dy="4.2">+hashCode() : int</tspan><tspan x="1875.2" dy="4.2">+equals(obj : Object) : boolean</tspan></text></g>

<g id="n33"><rect class="box" x="3936" y="1342" width="157" height="83"/><path class="sep" d="M3936 1348.5h157M3936 1366.5h157"/><text class="tt" x="4014.5" y="1346.7">Entity</text>
<text class="m" x="3937.2" y="1352.1"><tspan x="3937.2" dy="0">-idEntity : int</tspan><tspan x="3937.2" dy="4.2">-name : String</tspan><tspan x="3937.2" dy="4.2">-code : String</tspan><tspan x="3937.2" dy="4.2">-supplementCategories : List&lt;SupplementCategory&gt;</tspan></text>
<text class="m" x="3937.2" y="1370.1"><tspan x="3937.2" dy="0">+getIdEntity() : int</tspan><tspan x="3937.2" dy="4.2">+setIdEntity(idEntity : int) : void</tspan><tspan x="3937.2" dy="4.2">+getName() : String</tspan><tspan x="3937.2" dy="4.2">+setName(name : String) : void</tspan><tspan x="3937.2" dy="4.2">+getCode() : String</tspan><tspan x="3937.2" dy="4.2">+setCode(code : String) : void</tspan><tspan x="3937.2" dy="4.2">+getSupplementCategories() : List&lt;SupplementCategory&gt;</tspan><tspan x="3937.2" dy="4.2">+setSupplementCategories(supplementCategories : List&lt;SupplementCategory&gt;) : void</tspan><tspan x="3937.2" dy="4.2">+hashCode() : int</tspan><tspan x="3937.2" dy="4.2">+equals(obj : Object) : boolean</tspan></text></g>
</svg>
